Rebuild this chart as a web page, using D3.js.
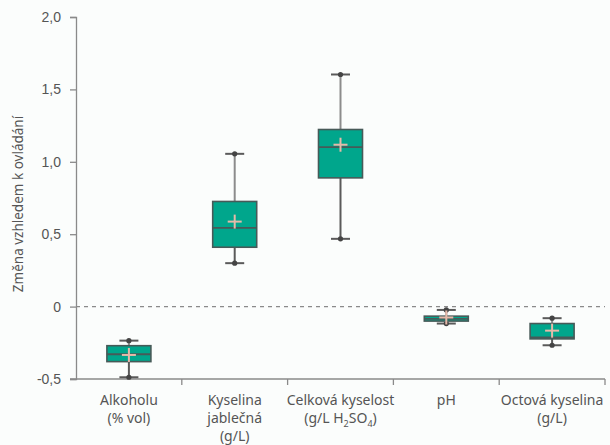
<!DOCTYPE html>
<html>
<head>
<meta charset="utf-8">
<script src="https://cdn.jsdelivr.net/npm/d3@7"></script>
<style>
  html, body { margin: 0; padding: 0; background: #fbfdfc; }
  svg { display: block; font-family: "Noto Sans", "Open Sans", sans-serif; }
</style>
</head>
<body>
<svg id="chart" width="610" height="445"></svg>
<script>
// Category labels (multi-line), one entry per box
const categories = ["alk", "jab", "cel", "ph", "oct"];
const labelLines = [
  ["Alkoholu", "(% vol)"],
  ["Kyselina", "jablečná", "(g/L)"],
  ["Celková kyselost", "(g/L H2SO4)"],
  ["pH"],
  ["Octová kyselina", "(g/L)"]
];

// Box statistics per category
const whiskerLow  = [-0.488, 0.300, 0.468, -0.117, -0.267];
const q1          = [-0.380, 0.410, 0.889, -0.100, -0.223];
const median      = [-0.329, 0.544, 1.102, -0.085, -0.213];
const q3          = [-0.270, 0.726, 1.223, -0.066, -0.117];
const whiskerHigh = [-0.235, 1.055, 1.603, -0.023, -0.080];
const mean        = [-0.334, 0.587, 1.118, -0.075, -0.166];

// Y axis ticks
const yTicks = [-0.5, 0, 0.5, 1.0, 1.5, 2.0];
const yTickLabels = ["-0,5", "0", "0,5", "1,0", "1,5", "2,0"];

const yLabel = "Změna vzhledem k ovládání";

const svg = d3.select("#chart");
const margin = { left: 76, right: 5, top: 17, bottom: 66 };
const W = 610, H = 445;

const x = d3.scaleBand()
  .domain(categories)
  .range([margin.left, W - margin.right])
  .padding(0);

const y = d3.scaleLinear()
  .domain([-0.5, 2.0])
  .range([H - margin.bottom, margin.top]);

const axisColor = "#8a8a8a";
const textColor = "#555";

// Y axis
const yAxis = svg.append("g")
  .attr("transform", `translate(${margin.left},0)`)
  .call(d3.axisLeft(y).tickValues(yTicks).tickFormat((d, i) => yTickLabels[i]).tickSizeOuter(0).tickSize(6).tickPadding(9));
yAxis.select(".domain").attr("stroke", axisColor).attr("stroke-width", 1.3);
yAxis.selectAll(".tick line").attr("stroke", axisColor).attr("stroke-width", 1.3);
yAxis.selectAll(".tick text").attr("fill", textColor).attr("font-size", 14);

// X axis (ticks between categories)
const bounds = categories.map(c => x(c) + x.bandwidth()).slice(0);
const xAxisG = svg.append("g").attr("transform", `translate(0,${y(-0.5)})`);
xAxisG.append("line")
  .attr("x1", margin.left - 6).attr("x2", W - margin.right)
  .attr("stroke", axisColor).attr("stroke-width", 1.3);
xAxisG.selectAll("line.tick").data(bounds).join("line")
  .attr("class", "tick")
  .attr("x1", d => d).attr("x2", d => d)
  .attr("y1", 0).attr("y2", 6)
  .attr("stroke", axisColor).attr("stroke-width", 1.3);

// Category labels
const labelsG = svg.append("g");
categories.forEach((c, i) => {
  const cx = x(c) + x.bandwidth() / 2;
  labelLines[i].forEach((line, j) => {
    const t = labelsG.append("text")
      .attr("x", cx)
      .attr("y", y(-0.5) + 26 + j * 18)
      .attr("text-anchor", "middle")
      .attr("fill", textColor)
      .attr("font-size", 14);
    if (line.includes("H2SO4")) {
      t.append("tspan").text("(g/L H");
      t.append("tspan").text("2").attr("font-size", 9).attr("dy", 4);
      t.append("tspan").text("SO").attr("dy", -4);
      t.append("tspan").text("4").attr("font-size", 9).attr("dy", 4);
      t.append("tspan").text(")").attr("dy", -4);
    } else {
      t.text(line);
    }
  });
});

// Y axis title
svg.append("text")
  .attr("transform", `translate(23,${(margin.top + y(-0.5)) / 2 + 6}) rotate(-90)`)
  .attr("text-anchor", "middle")
  .attr("fill", textColor)
  .attr("font-size", 13.5)
  .text(yLabel);

// Zero reference line
svg.append("line")
  .attr("x1", margin.left).attr("x2", W - margin.right)
  .attr("y1", y(0)).attr("y2", y(0))
  .attr("stroke", "#8a8a8a").attr("stroke-width", 1.2)
  .attr("stroke-dasharray", "4,4");

// Boxes
const boxW = 44, capW = 19;
const boxes = svg.append("g");
categories.forEach((c, i) => {
  const cx = x(c) + x.bandwidth() / 2;
  const g = boxes.append("g");
  // upper whisker
  g.append("line")
    .attr("x1", cx).attr("x2", cx)
    .attr("y1", y(whiskerHigh[i])).attr("y2", y(q3[i]))
    .attr("stroke", "#8c8c8c").attr("stroke-width", 2);
  // lower whisker
  g.append("line")
    .attr("x1", cx).attr("x2", cx)
    .attr("y1", y(q1[i])).attr("y2", y(whiskerLow[i]))
    .attr("stroke", "#5a5a5a").attr("stroke-width", 2);
  // caps with a dot at the centre
  [whiskerHigh[i], whiskerLow[i]].forEach(v => {
    g.append("line")
      .attr("x1", cx - capW / 2).attr("x2", cx + capW / 2)
      .attr("y1", y(v)).attr("y2", y(v))
      .attr("stroke", "#5a5a5a").attr("stroke-width", 2);
    g.append("circle")
      .attr("cx", cx).attr("cy", y(v)).attr("r", 2.6)
      .attr("fill", "#444");
  });
  // box
  g.append("rect")
    .attr("x", cx - boxW / 2)
    .attr("y", y(q3[i]))
    .attr("width", boxW)
    .attr("height", y(q1[i]) - y(q3[i]))
    .attr("fill", "#00a68c")
    .attr("stroke", "#475a58")
    .attr("stroke-width", 1.6);
  // median
  g.append("line")
    .attr("x1", cx - boxW / 2).attr("x2", cx + boxW / 2)
    .attr("y1", y(median[i])).attr("y2", y(median[i]))
    .attr("stroke", "#475a58").attr("stroke-width", 1.8);
  // mean marker
  const m = y(mean[i]);
  g.append("line")
    .attr("x1", cx - 7).attr("x2", cx + 7)
    .attr("y1", m).attr("y2", m)
    .attr("stroke", "#e6b9a9").attr("stroke-width", 2);
  g.append("line")
    .attr("x1", cx).attr("x2", cx)
    .attr("y1", m - 7).attr("y2", m + 7)
    .attr("stroke", "#e6b9a9").attr("stroke-width", 2);
});
</script>
</body>
</html>
